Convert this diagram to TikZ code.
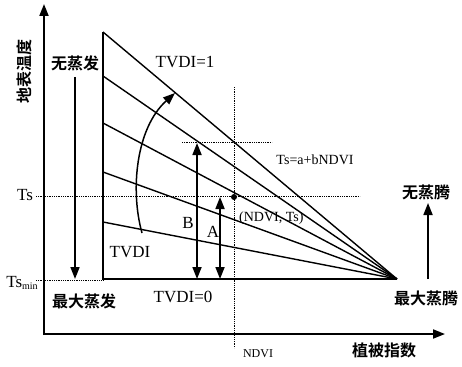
\documentclass[tikz,border=0pt]{standalone}
\usepackage{fontspec}
\setmainfont{Liberation Serif}
\newfontfamily\cjk{Noto Sans CJK SC Bold}
\usetikzlibrary{arrows.meta}
\begin{document}
\begin{tikzpicture}[x=1pt,y=-1pt,
  axis/.style={line width=1.8pt,-{Triangle[width=9pt,length=12pt]}},
  edge/.style={line width=1.4pt},
  guide/.style={densely dotted,line width=0.8pt},
  darrow/.style={line width=1.7pt,{Triangle[width=9pt,length=12pt]}-{Triangle[width=9pt,length=12pt]}},
  sarrow/.style={line width=1.7pt,-{Triangle[width=9pt,length=12pt]}},
  lab/.style={inner sep=0pt,font=\fontsize{17}{17}\selectfont},
  small/.style={inner sep=0pt,font=\fontsize{14}{14}\selectfont},
  zh/.style={inner sep=0pt,font=\cjk\fontsize{16}{16}\selectfont}]
\useasboundingbox (0,0) rectangle (462,366);
% axes
\coordinate (O) at (44,335);
\coordinate (Ytop) at (44,4);
\coordinate (Xend) at (445,334);
\draw[axis] (O) -- (Ytop);
\draw[axis] (43,334) -- (Xend);
% triangle
\coordinate (L0) at (103,279);
\coordinate (L1) at (103,222);
\coordinate (L2) at (103,172);
\coordinate (L3) at (103,123);
\coordinate (L4) at (103,76);
\coordinate (L5) at (103,32);
\coordinate (P) at (397,279);
\draw[edge] (L5) -- (L0) -- (P);
\foreach \i in {1,...,5}{\draw[edge] (L\i) -- (P);}
% guides
\coordinate (TsA) at (36,196);
\coordinate (TsB) at (360,196);
\coordinate (TmA) at (36,280);
\coordinate (TmB) at (103,280);
\coordinate (UpA) at (182,142);
\coordinate (UpB) at (272,142);
\coordinate (NvA) at (234,87);
\coordinate (NvB) at (234,348);
\draw[guide] (TsA) -- (TsB);
\draw[guide] (TmA) -- (TmB);
\draw[guide] (UpA) -- (UpB);
\draw[guide] (NvA) -- (NvB);
\node[circle,fill,inner sep=0pt,minimum size=6pt] (pt) at (234,197) {};
% arrows
\coordinate (Bt) at (197,143);
\coordinate (Bb) at (197,279);
\coordinate (At) at (220,197);
\coordinate (Ab) at (220,279);
\draw[darrow] (Bt) -- (Bb);
\draw[darrow] (At) -- (Ab);
\coordinate (E1) at (75,77);
\coordinate (E2) at (75,279);
\draw[sarrow] (E1) -- (E2);
\coordinate (T1) at (428,279);
\coordinate (T2) at (428,203);
\draw[sarrow] (T1) -- (T2);
\coordinate (C1) at (142,233);
\coordinate (C2) at (175,93);
\draw[sarrow,line width=1.5pt] (C1) .. controls (130,190) and (136,128) .. (C2);
% labels
\node[zh,rotate=90] (ylab) at (24,72) {地表温度};
\node[zh] (noevap) at (75,63) {无蒸发};
\node[lab] (tv1) at (185,62) {TVDI=1};
\node[small] (eq) at (315,160) {Ts=a+bNDVI};
\node[small,anchor=west] (pl) at (239,218) {(NDVI, Ts)};
\node[zh] (notr) at (426,192) {无蒸腾};
\node[lab] (ts) at (25,195) {Ts};
\node[lab] (tsmin) at (22,283) {Ts\raisebox{-0.35ex}{\fontsize{10}{10}\selectfont min}};
\node[lab] (lB) at (188,223) {B};
\node[lab] (lA) at (213,232) {A};
\node[lab] (tv) at (130,252) {TVDI};
\node[zh] (maxevap) at (84,301) {最大蒸发};
\node[lab] (tv0) at (183,297) {TVDI=0};
\node[zh] (maxtr) at (426,298) {最大蒸腾};
\node[zh] (xlab) at (384,350) {植被指数};
\node[inner sep=0pt,font=\fontsize{12}{12}\selectfont] (ndvi) at (258,354) {NDVI};
\end{tikzpicture}
\end{document}
